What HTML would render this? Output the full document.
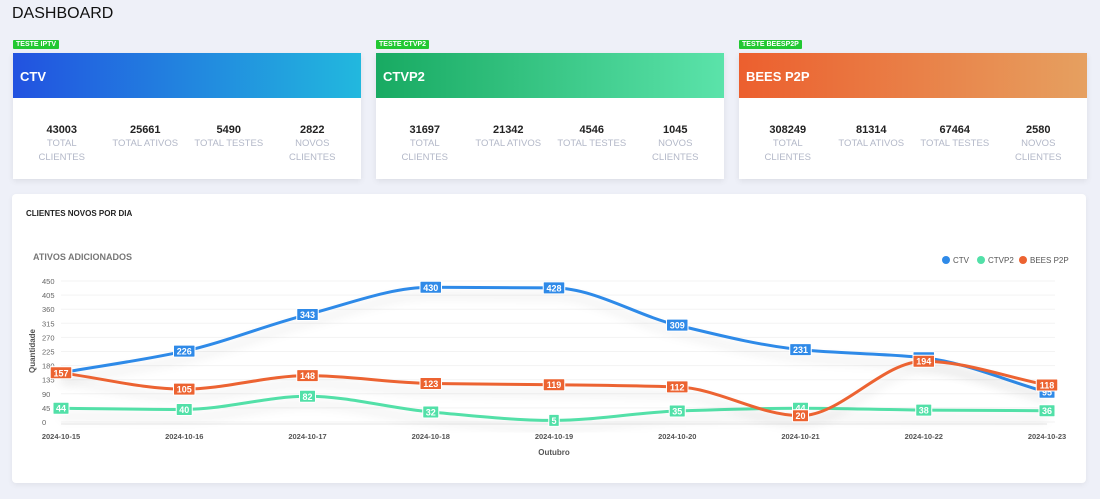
<!DOCTYPE html>
<html><head><meta charset="utf-8">
<style>
*{box-sizing:border-box;margin:0;padding:0}
body{width:1100px;height:499px;background:#eef0f8;font-family:"Liberation Sans",sans-serif;position:relative;overflow:hidden}
h1{position:absolute;left:12px;top:5px;font-size:16px;font-weight:normal;color:#111}
.card{position:absolute;top:53px;width:348px;height:126px;background:#fff;box-shadow:0 2px 6px rgba(0,0,0,.08)}
.badge{position:absolute;top:-13px;left:0;background:#22c832;color:#fff;font-size:7px;font-weight:bold;padding:1px 3px;border-radius:1px}
.hdr{height:45px;color:#fff;font-weight:bold;font-size:13px;padding:16px 0 0 7px}
.stats{display:flex;padding:26px 7px 0}
.stat{flex:1;text-align:center}
.num{font-size:11px;color:#222;line-height:13px;font-weight:bold}
.lbl{font-size:9.5px;color:#b3b8c8;line-height:14px}
.chart{position:absolute;left:12px;top:194px;width:1074px;height:289px;background:#fff;border-radius:4px;box-shadow:0 2px 6px rgba(0,0,0,.06)}
</style></head><body>
<h1>DASHBOARD</h1>

<div class="card" style="left:13px">
<div class="badge">TESTE IPTV</div>
<div class="hdr" style="background:linear-gradient(90deg,#2252e0,#22b8de)">CTV</div>
<div class="stats"><div class="stat"><div class="num">43003</div><div class="lbl">TOTAL<br>CLIENTES</div></div><div class="stat"><div class="num">25661</div><div class="lbl">TOTAL ATIVOS</div></div><div class="stat"><div class="num">5490</div><div class="lbl">TOTAL TESTES</div></div><div class="stat"><div class="num">2822</div><div class="lbl">NOVOS<br>CLIENTES</div></div></div>
</div>
<div class="card" style="left:376px">
<div class="badge">TESTE CTVP2</div>
<div class="hdr" style="background:linear-gradient(90deg,#18aa62,#5be3aa)">CTVP2</div>
<div class="stats"><div class="stat"><div class="num">31697</div><div class="lbl">TOTAL<br>CLIENTES</div></div><div class="stat"><div class="num">21342</div><div class="lbl">TOTAL ATIVOS</div></div><div class="stat"><div class="num">4546</div><div class="lbl">TOTAL TESTES</div></div><div class="stat"><div class="num">1045</div><div class="lbl">NOVOS<br>CLIENTES</div></div></div>
</div>
<div class="card" style="left:739px">
<div class="badge">TESTE BEESP2P</div>
<div class="hdr" style="background:linear-gradient(90deg,#ec5f2e,#e6a060)">BEES P2P</div>
<div class="stats"><div class="stat"><div class="num">308249</div><div class="lbl">TOTAL<br>CLIENTES</div></div><div class="stat"><div class="num">81314</div><div class="lbl">TOTAL ATIVOS</div></div><div class="stat"><div class="num">67464</div><div class="lbl">TOTAL TESTES</div></div><div class="stat"><div class="num">2580</div><div class="lbl">NOVOS<br>CLIENTES</div></div></div>
</div>

<div class="chart">
<div style="position:absolute;left:14px;top:15px;font-size:8px;font-weight:bold;color:#222">CLIENTES NOVOS POR DIA</div>
</div>
<svg id="svg" width="1100" height="499" style="position:absolute;left:0;top:0"></svg>
<script>
const categories=["2024-10-15","2024-10-16","2024-10-17","2024-10-18","2024-10-19","2024-10-20","2024-10-21","2024-10-22","2024-10-23"];
const ctv=[157,226,343,430,428,309,231,205,95];
const ctvp2=[44,40,82,32,5,35,44,38,36];
const bees=[157,105,148,123,119,112,20,194,118];
const yTicks=[0,45,90,135,180,225,270,315,360,405,450];
const seriesNames=["CTV","CTVP2","BEES P2P"];
const svg=document.getElementById('svg');const NS='http://www.w3.org/2000/svg';
const x0=61,x1=1047,y0=422,y1=281,ymax=450;
const X=i=>x0+(x1-x0)*i/(categories.length-1);
const Y=v=>y0-(y0-y1)*v/ymax;
function mk(t,a,p){const e=document.createElementNS(NS,t);for(const k in a)e.setAttribute(k,a[k]);(p||svg).appendChild(e);return e;}
const defs=mk('defs',{});
const f=mk('filter',{id:'sh',x:'-10%',y:'-50%',width:'120%',height:'200%'},defs);
mk('feDropShadow',{dx:0,dy:8,stdDeviation:5,'flood-color':'#000','flood-opacity':0.12},f);
let t=mk('text',{x:33,y:260,'font-size':9,fill:'#777','font-weight':'bold'});t.textContent='ATIVOS ADICIONADOS';

yTicks.forEach(v=>{
 const g=mk('line',{x1:x0,x2:x1+8,y1:Y(v),y2:Y(v),stroke:'#f3f3f3'});
 
 const l=mk('text',{x:42,y:Y(v)+3,'font-size':7.5,fill:'#666'});l.textContent=v;
 
});
let yt=mk('text',{x:0,y:0,'font-size':8,fill:'#555','font-weight':'bold','text-anchor':'middle',transform:'translate(35,351) rotate(-90)'});yt.textContent='Quantidade';

mk('line',{x1:x0,x2:x1,y1:y0+2,y2:y0+2,stroke:'#e6e6e6'});
categories.forEach((c,i)=>{const l=mk('text',{x:X(i),y:439,'font-size':7.5,fill:'#555','font-weight':'bold','text-anchor':'middle'});l.textContent=c;
 });
let xt=mk('text',{x:554,y:455,'font-size':8,fill:'#555','font-weight':'bold','text-anchor':'middle'});xt.textContent='Outubro';

function path(vals){const p=vals.map((v,i)=>[X(i),Y(v)]);const n=p.length;const h=p[1][0]-p[0][0];
 const s=[];for(let i=0;i<n-1;i++)s.push((p[i+1][1]-p[i][1])/h);
 const m=p.map((_,i)=>{if(i==0)return s[0];if(i==n-1)return s[n-2];if(s[i-1]*s[i]<=0)return 0;return 2/(1/s[i-1]+1/s[i]);});
 let d='M'+p[0];for(let i=0;i<n-1;i++){const a=p[i],b=p[i+1];
  d+=` C${a[0]+h/3},${a[1]+m[i]*h/3} ${b[0]-h/3},${b[1]-m[i+1]*h/3} ${b[0]},${b[1]}`;}return d;}
const series=[[ctv,'#2f8ae8'],[ctvp2,'#52e0a8'],[bees,'#ec6331']];
series.forEach(([vals,col],si)=>{
 const p=mk('path',{d:path(vals),fill:'none',stroke:col,'stroke-width':3,filter:'url(#sh)'});
 
});
[ctvp2,ctv,bees].forEach((vals,k)=>{const col=[series[1][1],series[0][1],series[2][1]][k];
 vals.forEach((v,i)=>{const w=String(v).length*5.5+5;const g=mk('g',{});
  
  mk('rect',{x:X(i)-w/2,y:Y(v)-6,width:w,height:12,fill:col,stroke:'#fff','stroke-width':1,rx:1},g);
  const tt=mk('text',{x:X(i),y:Y(v)+3.5,'font-size':9,'font-weight':'bold',fill:'#fff','text-anchor':'middle'},g);tt.textContent=v;});});
const legendX=[942,977,1019];
seriesNames.forEach((n,i)=>{const g=mk('g',{});
 
 mk('circle',{cx:legendX[i]+4,cy:260,r:4,fill:series[i][1]},g);
 const tt=mk('text',{x:legendX[i]+11,y:263,'font-size':8,fill:'#555'},g);tt.textContent=n;});
</script>
</body></html>
